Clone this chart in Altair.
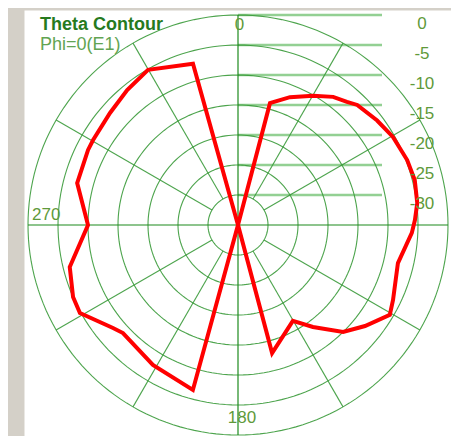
import altair as alt
import pandas as pd
import numpy as np

# ---- data (angle in degrees, clockwise from top; gain in dB) ----
theta_deg = [0, 14.7, 22.1, 30.2, 36.6, 41.5, 44.8, 53.1, 60.4, 69.0, 75.7, 83.0, 88.4,
             92.6, 103.4, 115.8, 120.6, 128.5, 135.5, 143.7, 150.2, 165.1, 180,
             195.3, 211.3, 226.8, 230.5, 240.9, 246.4, 256.0, 270.0, 284.6, 296.6,
             300.4, 311.2, 320.6, 329.9, 344.4, 360]
gain_db = [-35, -14.0, -12.0, -10.1, -8.4, -7.6, -6.8, -6.0, -5.3, -4.8, -4.6, -4.9, -5.5,
           -6.0, -7.6, -6.3, -5.6, -7.95, -10.0, -13.9, -16.6, -12.9, -35,
           -6.5, -7.7, -8.7, -8.0, -4.85, -5.0, -6.1, -10.0, -7.3, -7.05,
           -7.0, -6.65, -5.9, -5.1, -7.1, -35]

ring_db = [0, -5, -10, -15, -20, -25, -30]
ring_labels = ["0", "-5", "-10", "-15", "-20", "-25", "-30"]
spoke_deg = [30, 60, 120, 150, 210, 240, 300, 330]
axis_deg = [0, 90, 180, 270]
angle_label_text = ["0", "180", "270"]
angle_label_deg = [0, 180, 270]
title_text = "Theta Contour"
subtitle_text = "Phi=0(E1)"

FLOOR = -35  # dB at the centre
OUTER = 0 - FLOOR
INNER = ring_db[-1] - FLOOR

xs = alt.Scale(domain=[-35.667, 35.5], nice=False, zero=False)
ys = alt.Scale(domain=[-35.167, 35.833], nice=False, zero=False)
X = alt.X("x:Q", scale=xs, axis=None)
Y = alt.Y("y:Q", scale=ys, axis=None)

FONT = "Liberation Sans"
GRID = "#3a9a3a"
AXIS = "#1d8a1d"
LBL = "#5f9a3a"

# ---- grid rings ----
ring_rows = [{"ring": d, "a": a} for d in ring_db for a in range(0, 361, 2)]
rings = alt.Chart(pd.DataFrame(ring_rows)).transform_calculate(
    r=f"datum.ring - ({FLOOR})"
).transform_calculate(
    x="datum.r * sin(datum.a * PI / 180)", y="datum.r * cos(datum.a * PI / 180)"
).mark_line(color=GRID, strokeWidth=1.1, opacity=0.9).encode(
    x=X, y=Y, detail="ring:N", order="a:Q"
)

# ---- spokes ----
spoke_rows = [{"a": a, "r": r} for a in spoke_deg for r in (INNER, OUTER)]
spokes = alt.Chart(pd.DataFrame(spoke_rows)).transform_calculate(
    x="datum.r * sin(datum.a * PI / 180)", y="datum.r * cos(datum.a * PI / 180)"
).mark_line(color=GRID, strokeWidth=1.1, opacity=0.9).encode(
    x=X, y=Y, detail="a:N", order="r:Q"
)

axis_rows = [{"a": a, "r": r} for a in axis_deg for r in (0, OUTER)]
axes = alt.Chart(pd.DataFrame(axis_rows)).transform_calculate(
    x="datum.r * sin(datum.a * PI / 180)", y="datum.r * cos(datum.a * PI / 180)"
).mark_line(color=AXIS, strokeWidth=1.2).encode(
    x=X, y=Y, detail="a:N", order="r:Q"
)

# ---- level lines and labels on the right ----
lvl = pd.DataFrame({"db": ring_db, "label": ring_labels})
lvl_lines = alt.Chart(lvl).transform_calculate(
    y=f"datum.db - ({FLOOR})", x0="0", x1="24"
).mark_rule(color="#80c880", strokeWidth=2.6, opacity=0.85).encode(
    x=alt.X("x0:Q", scale=xs, axis=None), x2="x1:Q", y=Y
)
lvl_text = alt.Chart(lvl).transform_calculate(
    y=f"datum.db - ({FLOOR})", x="30.67"
).mark_text(font=FONT, fontSize=17, color=LBL, align="center",
            baseline="middle", dy=9.5).encode(x=X, y=Y, text="label:N")

# ---- angle labels ----
ang = pd.DataFrame({"a": angle_label_deg, "label": angle_label_text})
ang_base = alt.Chart(ang).transform_calculate(
    x=f"{OUTER} * sin(datum.a * PI / 180)", y=f"{OUTER} * cos(datum.a * PI / 180)"
)
t0 = ang_base.transform_filter("datum.a == 0").mark_text(
    font=FONT, fontSize=17, color=LBL, align="center", baseline="alphabetic", dx=1.5, dy=15
).encode(x=X, y=Y, text="label:N")
t180 = ang_base.transform_filter("datum.a == 180").mark_text(
    font=FONT, fontSize=17, color=LBL, align="center", baseline="alphabetic", dx=4, dy=-12
).encode(x=X, y=Y, text="label:N")
t270 = ang_base.transform_filter("datum.a == 270").mark_text(
    font=FONT, fontSize=17, color=LBL, align="left", baseline="alphabetic", dx=4, dy=-5
).encode(x=X, y=Y, text="label:N")

# ---- the pattern ----
curve = alt.Chart(pd.DataFrame({"theta": theta_deg, "gain": gain_db})).transform_calculate(
    r=f"max(datum.gain - ({FLOOR}), 0)"
).transform_calculate(
    x="datum.r * sin(datum.theta * PI / 180)", y="datum.r * cos(datum.theta * PI / 180)"
).mark_line(color="#ff0000", strokeWidth=4, strokeJoin="miter").encode(
    x=X, y=Y, order="theta:Q"
)

# ---- titles ----
title = alt.Chart(pd.DataFrame({"t": [title_text]})).mark_text(
    font=FONT, fontSize=18, fontWeight="bold", color="#267a1e", align="left", baseline="alphabetic"
).encode(x=alt.value(16), y=alt.value(20), text="t:N")
sub = alt.Chart(pd.DataFrame({"t": [subtitle_text]})).mark_text(
    font=FONT, fontSize=18, color="#62a452", align="left", baseline="alphabetic"
).encode(x=alt.value(16), y=alt.value(40), text="t:N")

chart = alt.layer(
    lvl_lines, rings, spokes, axes, curve, lvl_text, t0, t180, t270, title, sub
).properties(
    width=427, height=426,
    autosize=alt.AutoSizeParams(type="none"),
    padding={"left": 16, "top": 2, "right": 0, "bottom": 0},
    background="#d4d0c8",
).configure_view(fill="white", stroke="transparent")

chart.save("out.html", embed_options={"renderer": "svg", "actions": False})
